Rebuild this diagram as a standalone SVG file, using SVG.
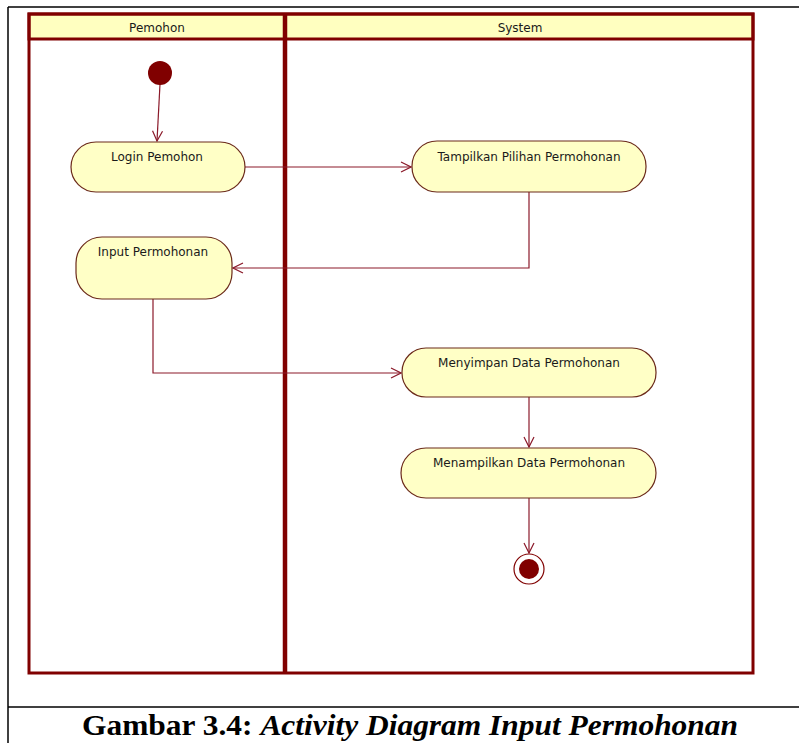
<svg xmlns="http://www.w3.org/2000/svg" width="799" height="743" viewBox="0 0 799 743">
<style>
.frame{fill:none;stroke:#000;stroke-width:1.5}
.lane{fill:none;stroke:#800000;stroke-width:3}
.hdr{fill:#FFFFC0;stroke:#800000;stroke-width:3}
.act{fill:#FFFFC6;stroke:#6B2A1A;stroke-width:1.2}
.lbl{font-family:"DejaVu Sans",sans-serif;font-size:12px;fill:#1a1a1a;text-anchor:middle}
.con{fill:none;stroke:#8B1A2A;stroke-width:1.2}
.cap{font-family:"Liberation Serif",serif;font-size:30px;font-weight:bold;fill:#000}
</style>
<defs>
<marker id="arr" markerWidth="12" markerHeight="12" refX="11" refY="6" orient="auto" markerUnits="userSpaceOnUse">
<path d="M1,1 L11,6 L1,11" fill="none" stroke="#8B1A2A" stroke-width="1.2"/>
</marker>
</defs>
<rect width="799" height="743" fill="#fff"/>
<g id="page-frame">
<line class="frame" x1="8" y1="7" x2="799" y2="7"/>
<line class="frame" x1="8" y1="7" x2="8" y2="743"/>
<line class="frame" x1="8" y1="707" x2="799" y2="707"/>
</g>
<g id="swimlanes">
<rect class="hdr" x="29" y="14" width="724" height="25"/>
<rect class="lane" x="29" y="14" width="724" height="659"/>
<line x1="285" y1="14" x2="285" y2="673" stroke="#800000" stroke-width="4.5"/>
<text class="lbl" x="157" y="32">Pemohon</text>
<text class="lbl" x="520" y="32">System</text>
</g>
<g id="connectors">
<path class="con" d="M160,84 L157,141" marker-end="url(#arr)"/>
<path class="con" d="M245,167 L411,167" marker-end="url(#arr)"/>
<path class="con" d="M529,192 L529,268 L233,268" marker-end="url(#arr)"/>
<path class="con" d="M153,299 L153,373 L401,373" marker-end="url(#arr)"/>
<path class="con" d="M529,397 L529,447" marker-end="url(#arr)"/>
<path class="con" d="M529,498 L529,553" marker-end="url(#arr)"/>
</g>
<g id="start">
<circle cx="160" cy="73" r="12" fill="#800000"/>
</g>
<g id="login-pemohon">
<rect class="act" x="71" y="142" width="174" height="50" rx="25" ry="25"/>
<text class="lbl" x="157" y="161">Login Pemohon</text>
</g>
<g id="tampilkan-pilihan">
<rect class="act" x="412" y="141" width="234" height="51" rx="25" ry="25"/>
<text class="lbl" x="529" y="161">Tampilkan Pilihan Permohonan</text>
</g>
<g id="input-permohonan">
<rect class="act" x="76" y="237" width="156" height="62" rx="26" ry="26"/>
<text class="lbl" x="153" y="256">Input Permohonan</text>
</g>
<g id="menyimpan-data">
<rect class="act" x="402" y="348" width="254" height="49" rx="24" ry="24"/>
<text class="lbl" x="529" y="367">Menyimpan Data Permohonan</text>
</g>
<g id="menampilkan-data">
<rect class="act" x="401" y="448" width="255" height="50" rx="25" ry="25"/>
<text class="lbl" x="529" y="467">Menampilkan Data Permohonan</text>
</g>
<g id="end">
<circle cx="529" cy="569" r="15" fill="#fff" stroke="#800000" stroke-width="1.2"/>
<circle cx="529" cy="569" r="10" fill="#800000"/>
</g>
<g id="caption">
<text class="cap" x="82" y="735" textLength="656" lengthAdjust="spacingAndGlyphs">Gambar 3.4: <tspan font-style="italic">Activity Diagram Input Permohonan</tspan></text>
</g>
</svg>
